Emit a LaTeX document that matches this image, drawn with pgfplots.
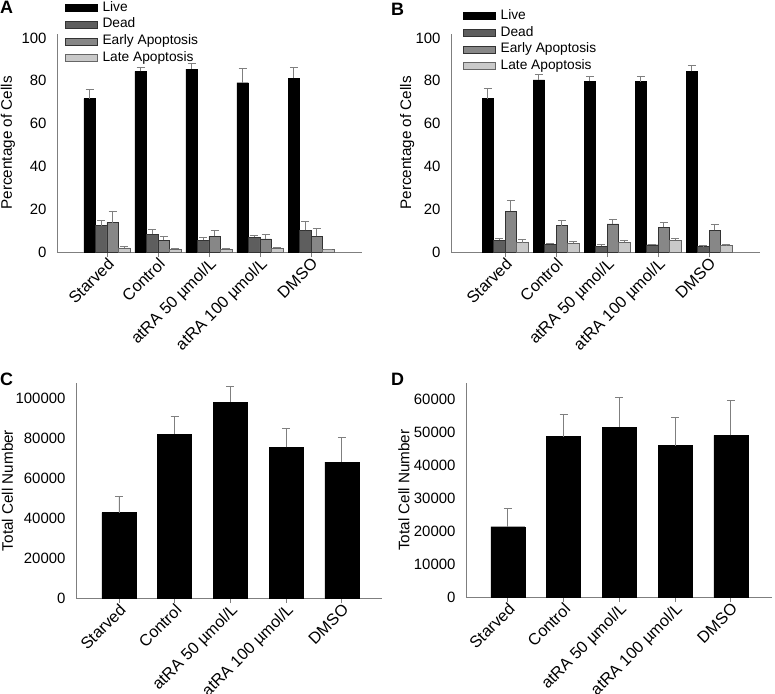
\documentclass[border=0pt]{standalone}
\usepackage{fontspec}
\setmainfont{Liberation Sans}
\usepackage{pgfplots}
\pgfplotsset{compat=1.18}
\definecolor{cLive}{HTML}{000000}
\definecolor{cDead}{HTML}{5E5E5E}
\definecolor{cEarly}{HTML}{878787}
\definecolor{cLate}{HTML}{C9C9C9}
\definecolor{axgray}{HTML}{7F7F7F}
\pgfplotsset{
  panel/.style={
    scale only axis,
    anchor=south west,
    axis x line=bottom, axis y line=left,
    axis line style={-, axgray, line width=0.9bp},
    /pgf/number format/assume math mode=true,
    /pgf/number format/1000 sep={},
    /pgf/number format/fixed,
    scaled y ticks=false,
    ymin=0,
    tick label style={font=\fontsize{15}{17}\selectfont, black},
    yticklabel style={xshift=-2bp},
    ylabel style={font=\fontsize{15.3}{17}\selectfont, anchor=center},
    xtick={0,1,2,3,4},
    xticklabels={Starved,Control,atRA 50 µmol/L,atRA 100 µmol/L,DMSO},
    xticklabel style={rotate=45, anchor=north east, font=\fontsize{16.3}{18}\selectfont, inner sep=1bp, xshift=1bp, yshift=1.5bp},
    tick align=outside,
    major tick length=5bp,
    xtick style={axgray, line width=0.8bp},
    ytick style={draw=none},
    ybar=0bp,
  },
  eb/.style={error bars/.cd, y dir=plus, y explicit,
    error bar style={axgray, line width=0.8bp},
    error mark options={rotate=90, axgray, mark size=4bp, line width=0.8bp}},
  leg/.style={
    legend cell align=left,
    legend style={draw=none, fill=none, anchor=north west, inner sep=0bp,
      font=\fontsize{13.8}{15}\selectfont, column sep=5bp, row sep=3.8bp,
      nodes={inner sep=0bp, text height=10bp, text depth=3bp}},
    legend image code/.code={\draw[#1] (0bp,-3.5bp) rectangle (32bp,3.5bp);},
  },
}
\begin{document}
\begin{tikzpicture}
\path[use as bounding box] (0,0) rectangle (775bp,-694bp);
\node[anchor=north west, inner sep=0pt, font=\fontsize{18}{18}\bfseries] at (0bp,-1bp) {A};
\node[anchor=north west, inner sep=0pt, font=\fontsize{18}{18}\bfseries] at (391bp,-3bp) {B};
\node[anchor=north west, inner sep=0pt, font=\fontsize{18}{18}\bfseries] at (0bp,-373bp) {C};
\node[anchor=north west, inner sep=0pt, font=\fontsize{18}{18}\bfseries] at (391bp,-373bp) {D};

% Panel A
\begin{axis}[panel, leg, at={(57bp,-252bp)}, width=305bp, height=218.3bp,
  xmin=-0.98, xmax=5.0, ymax=102, ytick={0,20,40,60,80,100},
  bar width=11.5bp,
  ylabel={Percentage of Cells}, ylabel style={at={(axis description cs:-0.161,0.5)}},
  legend style={at={(rel axis cs:0.026,1.15)}}]
\addplot[fill=cLive, draw=black, line width=0.4bp, eb] coordinates {
 (0,71.7) +- (0,4.3) (1,84.4) +- (0,1.7) (2,85.5) +- (0,2.5) (3,79.1) +- (0,6.6) (4,81.2) +- (0,4.9)};
\addplot[fill=cDead, draw=black!80, line width=0.4bp, eb] coordinates {
 (0,12.3) +- (0,2.3) (1,8.3) +- (0,2.1) (2,5.5) +- (0,1.2) (3,7.0) +- (0,0.9) (4,10.1) +- (0,4.1)};
\addplot[fill=cEarly, draw=black!80, line width=0.4bp, eb] coordinates {
 (0,13.7) +- (0,5.5) (1,5.6) +- (0,1.6) (2,7.3) +- (0,2.7) (3,6.1) +- (0,2.2) (4,7.3) +- (0,3.8)};
\addplot[fill=cLate, draw=black!60, line width=0.4bp, eb] coordinates {
 (0,1.9) +- (0,0.9) (1,1.4) +- (0,0.3) (2,1.4) +- (0,0.3) (3,1.7) +- (0,0.6) (4,1.1) +- (0,0.2)};
\legend{Live,Dead,Early Apoptosis,Late Apoptosis}
\end{axis}

% Panel B
\begin{axis}[panel, leg, at={(451bp,-252bp)}, width=309bp, height=218.3bp,
  xmin=-1.06, xmax=5.0, ymax=102, ytick={0,20,40,60,80,100},
  bar width=11.5bp,
  ylabel={Percentage of Cells}, ylabel style={at={(axis description cs:-0.142,0.5)}},
  legend style={at={(rel axis cs:0.039,1.113)}}]
\addplot[fill=cLive, draw=black, line width=0.4bp, eb] coordinates {
 (0,71.7) +- (0,4.9) (1,80.4) +- (0,2.6) (2,79.8) +- (0,2.4) (3,79.6) +- (0,2.6) (4,84.4) +- (0,2.7)};
\addplot[fill=cDead, draw=black!80, line width=0.4bp, eb] coordinates {
 (0,5.5) +- (0,0.7) (1,3.6) +- (0,0.4) (2,2.6) +- (0,0.8) (3,3.4) +- (0,0.3) (4,2.5) +- (0,0.5)};
\addplot[fill=cEarly, draw=black!80, line width=0.4bp, eb] coordinates {
 (0,19.0) +- (0,5.0) (1,12.3) +- (0,2.3) (2,13.2) +- (0,1.9) (3,11.5) +- (0,2.2) (4,10.1) +- (0,2.7)};
\addplot[fill=cLate, draw=black!60, line width=0.4bp, eb] coordinates {
 (0,4.4) +- (0,1.4) (1,4.0) +- (0,0.8) (2,4.5) +- (0,0.8) (3,5.5) +- (0,1.0) (4,3.0) +- (0,0.4)};
\legend{Live,Dead,Early Apoptosis,Late Apoptosis}
\end{axis}

% Panel C
\begin{axis}[panel, at={(76bp,-598bp)}, width=306bp, height=215bp,
  xmin=-0.77, xmax=4.72, ymax=107500, ytick={0,20000,40000,60000,80000,100000},
  bar width=34bp,
  ylabel={Total Cell Number}, ylabel style={at={(axis description cs:-0.224,0.5)}}]
\addplot[fill=black, draw=black, line width=0.4bp, eb] coordinates {
 (0,42700) +- (0,8000) (1,82000) +- (0,9000) (2,98000) +- (0,7850) (3,75300) +- (0,9350) (4,68000) +- (0,12500)};
\end{axis}

% Panel D
\begin{axis}[panel, at={(466bp,-597bp)}, width=306bp, height=213.8bp,
  xmin=-0.75, xmax=4.74, ymax=64800, ytick={0,10000,20000,30000,40000,50000,60000},
  bar width=34bp,
  ylabel={Total Cell Number}, ylabel style={at={(axis description cs:-0.203,0.5)}}]
\addplot[fill=black, draw=black, line width=0.4bp, eb] coordinates {
 (0,21300) +- (0,5550) (1,48600) +- (0,6650) (2,51500) +- (0,9100) (3,45900) +- (0,8550) (4,49000) +- (0,10600)};
\end{axis}
\end{tikzpicture}
\end{document}
